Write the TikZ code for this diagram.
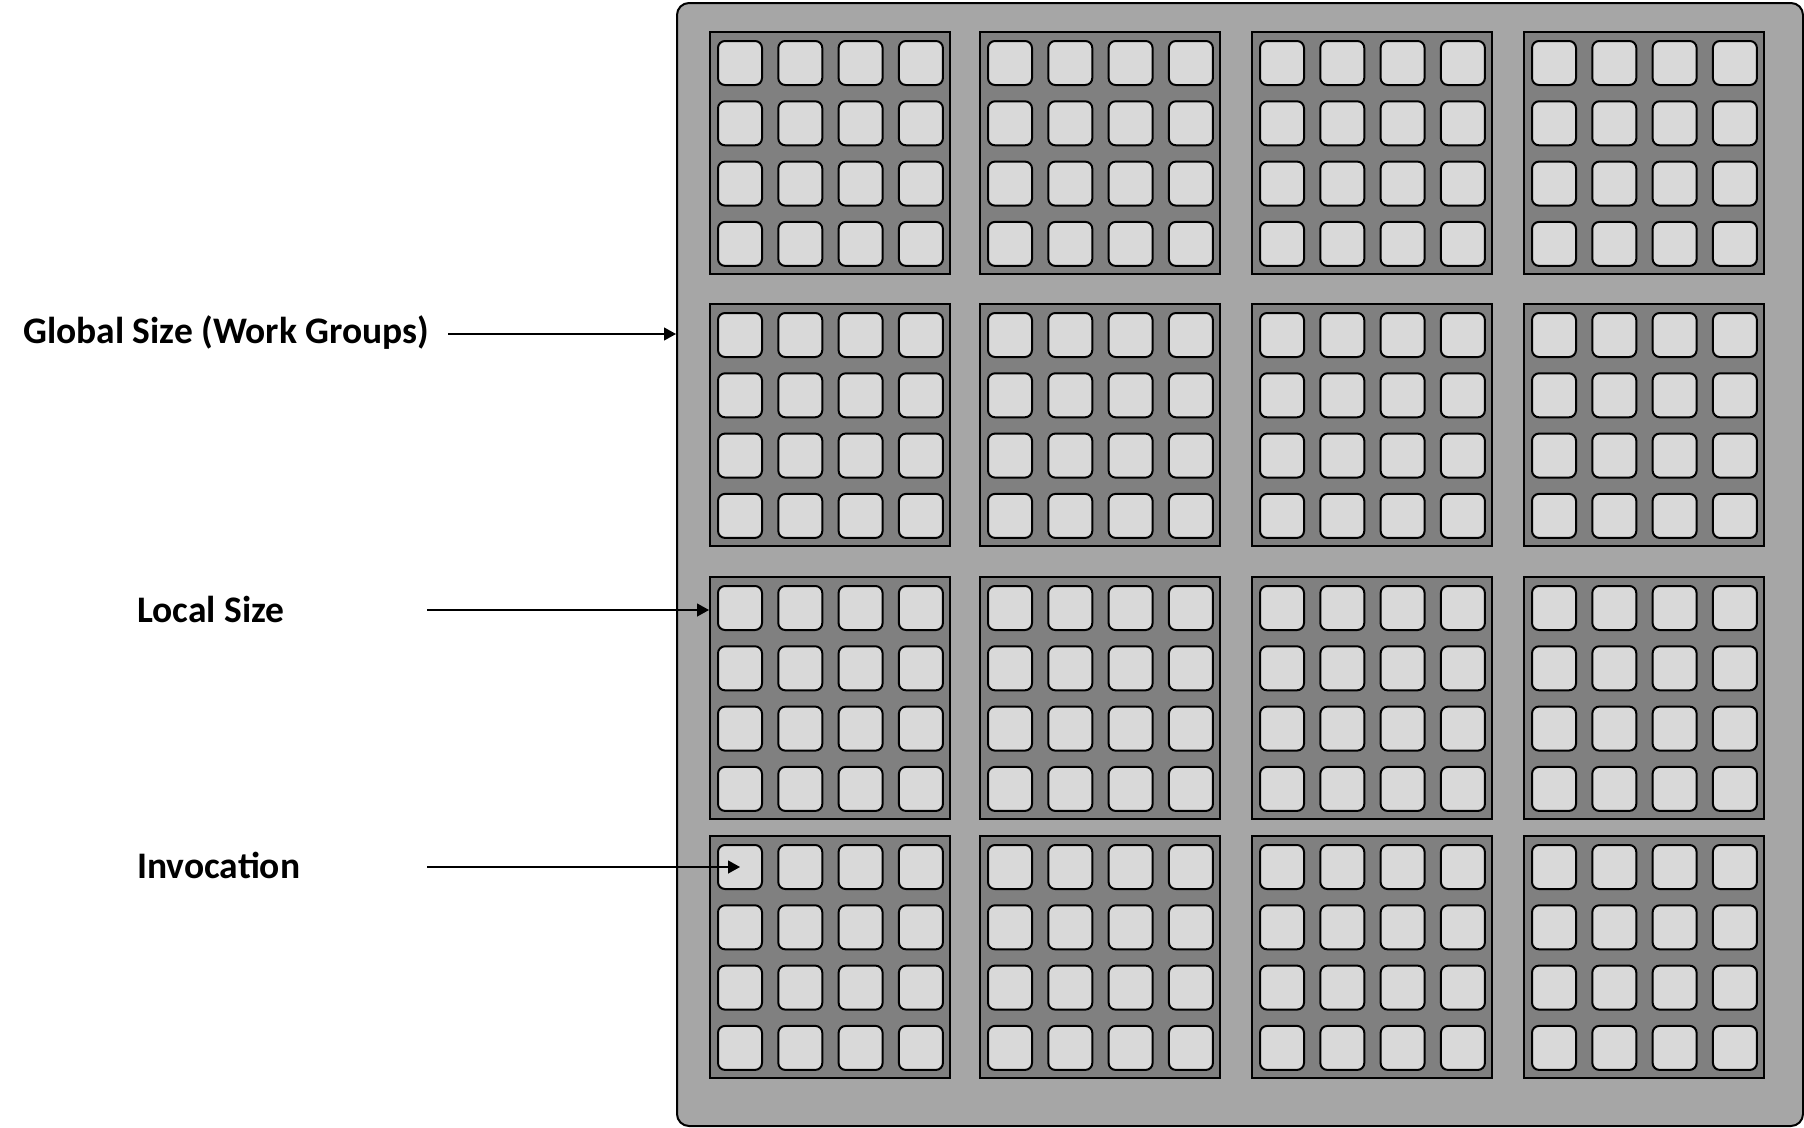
\documentclass[tikz,border=0pt]{standalone}
\usepackage{fontspec}
\setmainfont{Carlito}
\usetikzlibrary{arrows.meta, positioning}

\definecolor{outergray}{HTML}{A6A6A6}
\definecolor{groupgray}{HTML}{808080}
\definecolor{cellgray}{HTML}{D9D9D9}

\begin{document}
\begin{tikzpicture}[x=1pt, y=-1pt,
    wgbox/.style={draw, line width=2pt, fill=groupgray, minimum width=240pt, minimum height=242pt, anchor=north west, inner sep=0pt},
    cellbox/.style={draw, line width=2pt, fill=cellgray, rounded corners=7pt, minimum size=44pt, anchor=north west, inner sep=0pt},
    sizelabel/.style={anchor=base west, inner sep=0pt, font=\fontsize{37.5}{45}\selectfont\bfseries},
    arr/.style={-{Triangle[length=12pt, width=13pt]}, line width=1.2pt}]
    \useasboundingbox (0,0) rectangle (1804,1127);
    \node[draw, line width=2pt, fill=outergray, rounded corners=12pt, minimum width=1126pt, minimum height=1123pt, anchor=north west, inner sep=0pt] (grid) at (676,2) {};
    \foreach \c/\gx in {1/709, 2/979, 3/1251, 4/1523}
      \foreach \r/\gy in {1/31, 2/303, 3/576, 4/835} {
        \node[wgbox] (g-\r-\c) at (\gx,\gy) {};
        \foreach \i in {1,...,4}
          \foreach \j in {1,...,4}
            \node[cellbox] (c-\r-\c-\j-\i) at ({\gx+8+60.3*(\i-1)}, {\gy+9+60.3*(\j-1)}) {};
      }
    \node[sizelabel] (gsize) at (23,343) {Global Size (Work Groups)};
    \node[sizelabel] (lsize) at (137,622) {Local Size};
    \node[sizelabel] (inv) at (137,878) {Invocation};
    \coordinate (gsize-tail) at (448,334);
    \coordinate (lsize-tail) at (427,610);
    \coordinate (inv-tail) at (427,867);
    \draw[arr] (gsize-tail) -- (gsize-tail -| grid.west);
    \draw[arr] (lsize-tail) -- (lsize-tail -| g-3-1.west);
    \draw[arr] (inv-tail) -- (c-4-1-1-1.center);
\end{tikzpicture}
\end{document}
